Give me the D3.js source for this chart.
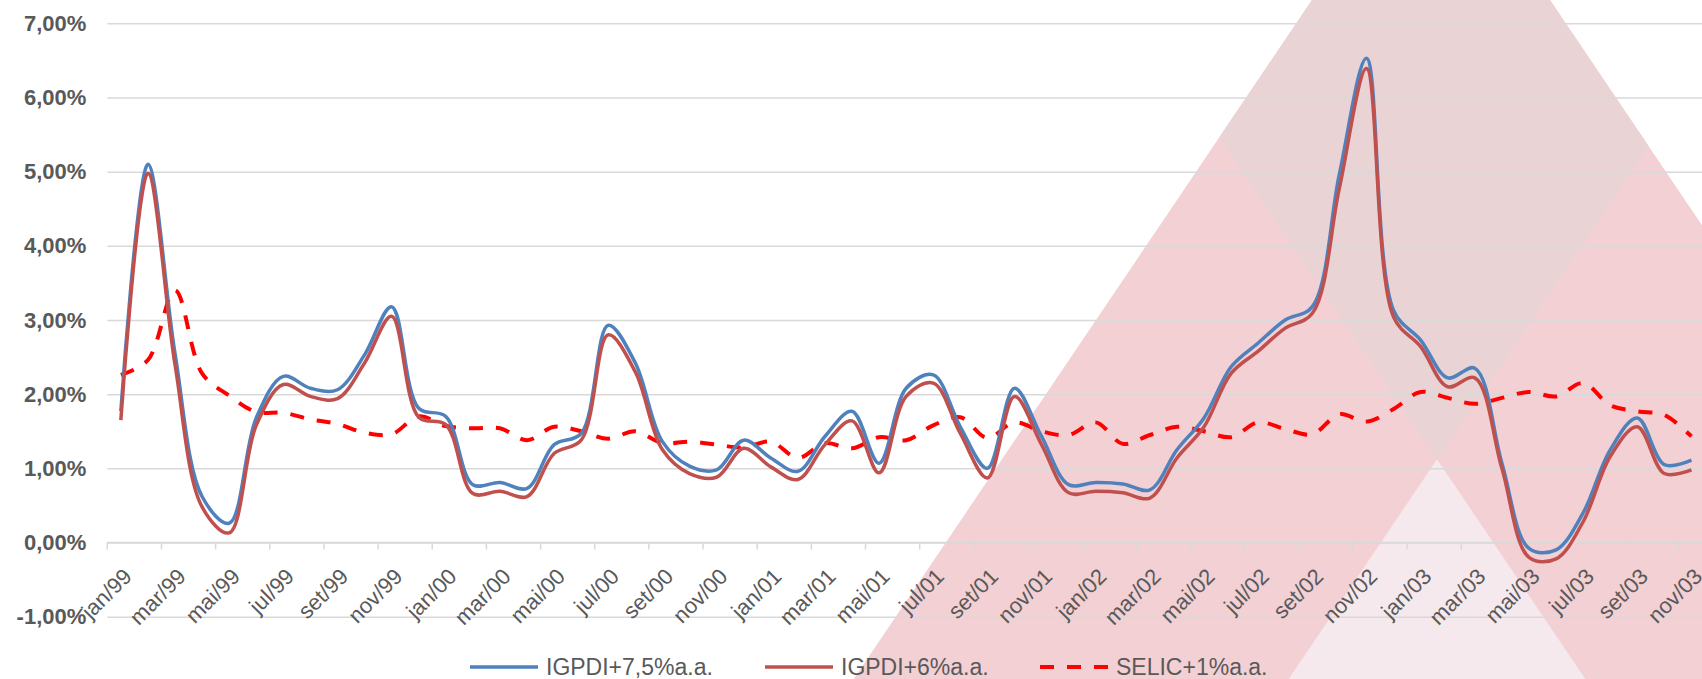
<!DOCTYPE html>
<html>
<head>
<meta charset="utf-8">
<script src="https://cdnjs.cloudflare.com/ajax/libs/d3/7.8.5/d3.min.js"></script>
<style>
    html, body { margin: 0; padding: 0; background: #fff; overflow: hidden; }
    svg { display: block; }
    .xlab { font-family: "Liberation Sans", Arial, sans-serif; font-size: 22px; fill: #595959; }
</style>
</head>
<body>
<div id="chart"></div>
<script>
var categories = [
    "jan/99", "fev/99", "mar/99", "abr/99", "mai/99", "jun/99", "jul/99", "ago/99", "set/99", "out/99", "nov/99", "dez/99",
    "jan/00", "fev/00", "mar/00", "abr/00", "mai/00", "jun/00", "jul/00", "ago/00", "set/00", "out/00", "nov/00", "dez/00",
    "jan/01", "fev/01", "mar/01", "abr/01", "mai/01", "jun/01", "jul/01", "ago/01", "set/01", "out/01", "nov/01", "dez/01",
    "jan/02", "fev/02", "mar/02", "abr/02", "mai/02", "jun/02", "jul/02", "ago/02", "set/02", "out/02", "nov/02", "dez/02",
    "jan/03", "fev/03", "mar/03", "abr/03", "mai/03", "jun/03", "jul/03", "ago/03", "set/03", "out/03", "nov/03"
];

// tick labels shown on the x axis (every other month)
var xTickLabels = [
    "jan/99", "mar/99", "mai/99", "jul/99", "set/99", "nov/99",
    "jan/00", "mar/00", "mai/00", "jul/00", "set/00", "nov/00",
    "jan/01", "mar/01", "mai/01", "jul/01", "set/01", "nov/01",
    "jan/02", "mar/02", "mai/02", "jul/02", "set/02", "nov/02",
    "jan/03", "mar/03", "mai/03", "jul/03", "set/03", "nov/03"
];

var yTicks = [-1, 0, 1, 2, 3, 4, 5, 6, 7];

var seriesNames = ["IGPDI+7,5%a.a.", "IGPDI+6%a.a.", "SELIC+1%a.a."];

// monthly values, in %
var igpdi75 = [
    1.77, 5.10, 2.55, 0.62, 0.26, 1.68, 2.24, 2.08, 2.06, 2.53, 3.18, 1.81,
    1.70, 0.78, 0.81, 0.73, 1.32, 1.47, 2.93, 2.42, 1.36, 1.03, 0.98, 1.38,
    1.14, 0.96, 1.43, 1.77, 1.07, 2.08, 2.26, 1.56, 1.00, 2.08, 1.43, 0.78,
    0.81, 0.79, 0.71, 1.25, 1.68, 2.37, 2.69, 3.00, 3.18, 4.97, 6.53, 3.13,
    2.73, 2.22, 2.35, 1.07, -0.08, -0.10, 0.40, 1.25, 1.68, 1.05, 1.11
];

var igpdi6 = [
    1.65, 4.98, 2.40, 0.48, 0.13, 1.58, 2.13, 1.97, 1.94, 2.42, 3.05, 1.69,
    1.59, 0.66, 0.69, 0.62, 1.20, 1.38, 2.80, 2.30, 1.25, 0.93, 0.88, 1.27,
    1.02, 0.85, 1.32, 1.64, 0.94, 1.97, 2.15, 1.47, 0.87, 1.97, 1.32, 0.67,
    0.69, 0.67, 0.60, 1.14, 1.56, 2.28, 2.58, 2.89, 3.09, 4.78, 6.39, 3.04,
    2.64, 2.10, 2.22, 1.00, -0.20, -0.22, 0.28, 1.16, 1.56, 0.93, 0.98
];

var selic = [
    2.26, 2.46, 3.40, 2.28, 1.98, 1.76, 1.75, 1.66, 1.60, 1.48, 1.46, 1.70,
    1.57, 1.54, 1.54, 1.38, 1.56, 1.50, 1.40, 1.50, 1.34, 1.36, 1.32, 1.28,
    1.36, 1.14, 1.34, 1.27, 1.42, 1.38, 1.58, 1.69, 1.41, 1.62, 1.50, 1.45,
    1.62, 1.33, 1.45, 1.56, 1.50, 1.42, 1.62, 1.53, 1.46, 1.73, 1.63, 1.80,
    2.03, 1.95, 1.87, 1.95, 2.03, 1.97, 2.15, 1.85, 1.77, 1.72, 1.43
];

function init() {
    var w = 1702;
    var h = 679;
    var left = 107.3, right = 1705; // plot runs slightly past the right edge
    var top = 23.3, bottom = 616.7;
    var font = "'Liberation Sans', Arial, sans-serif";
    var grey = "#595959";
    var gridColor = "#d9d9d9";

    var svg = d3.select("#chart")
        .append("svg")
        .attr("width", w)
        .attr("height", h);

    // background watermark: big triangle split by two crossing lines
    var bg = svg.append("g");
    var s = 0.675;
    var lOut = 1312, rOut = 1550;   // outer edges at y = 0
    var lIn = 1747, rIn = 1127;     // crossing lines at y = 0
    function lx(a, yy) { return a - s * yy; }
    function rx(b, yy) { return b + s * yy; }
    function meet(a, b) { return (a - b) / (2 * s); }
    function poly(pts) { return "M" + pts.map(function(p) { return p.join(","); }).join("L") + "Z"; }
    var yb = h + 10;
    var yTop = meet(lOut, rOut);
    var apex = [lx(lOut, yTop), yTop];
    var yP = meet(lIn, rIn);
    var P = [lx(lIn, yP), yP];
    var yR = meet(lIn, rOut), yL = meet(lOut, rIn);

    bg.append("path")
        .attr("d", poly([apex, [rx(rOut, yb), yb], [lx(lOut, yb), yb]]))
        .attr("fill", "#f2d0d4");
    bg.append("path")
        .attr("d", poly([apex, [rx(rOut, yR), yR], P, [lx(lOut, yL), yL]]))
        .attr("fill", "#e9d3d5");
    bg.append("path")
        .attr("d", poly([P, [rx(rIn, yb), yb], [lx(lIn, yb), yb]]))
        .attr("fill", "#f6e9ed");

    // Scales
    var x = d3.scaleBand()
        .domain(categories)
        .range([left, right]);

    var y = d3.scaleLinear()
        .domain([-1, 7])
        .range([bottom, top]);

    var ptBR = d3.formatLocale({ decimal: ",", thousands: ".", grouping: [3], currency: ["R$", ""], minus: "-" });
    var pct = ptBR.format(".2f");

    // gridlines
    var grid = svg.append("g")
        .attr("transform", "translate(" + left + ",0)")
        .call(d3.axisLeft(y).tickValues(yTicks).tickSize(-(w - left)).tickFormat(""));
    grid.select(".domain").remove();
    grid.selectAll("line").attr("stroke", gridColor).attr("stroke-width", 1.5);

    // y labels
    var yAxis = svg.append("g")
        .attr("transform", "translate(" + left + ",0)")
        .call(d3.axisLeft(y).tickValues(yTicks).tickSize(0).tickPadding(21)
            .tickFormat(function(d) { return pct(d) + "%"; }));
    yAxis.select(".domain").remove();
    yAxis.selectAll("text")
        .attr("font-family", font)
        .attr("font-weight", "bold")
        .attr("font-size", "22px")
        .attr("fill", grey);

    // category axis line with ticks between every two months
    var zeroY = y(0);
    svg.append("line")
        .attr("x1", left).attr("x2", w)
        .attr("y1", zeroY).attr("y2", zeroY)
        .attr("stroke", gridColor).attr("stroke-width", 1.5);
    svg.append("g").selectAll("line")
        .data(xTickLabels)
        .enter().append("line")
        .attr("x1", function(d) { return x(d); })
        .attr("x2", function(d) { return x(d); })
        .attr("y1", zeroY)
        .attr("y2", zeroY + 7)
        .attr("stroke", gridColor)
        .attr("stroke-width", 1.5);

    // rotated month labels, their top-right corner just under the category
    svg.append("g").selectAll("text")
        .data(xTickLabels)
        .enter().append("text")
        .attr("class", "xlab")
        .attr("text-anchor", "end")
        .attr("dy", "0.72em")
        .attr("transform", function(d) {
            var cx = x(d) + x.bandwidth() / 2;
            return "translate(" + (cx + 1) + "," + (zeroY + 24) + ") rotate(-45)";
        })
        .text(function(d) { return d; });

    // series
    var line = d3.line()
        .x(function(d, i) { return x(categories[i]) + x.bandwidth() / 2; })
        .y(function(d) { return y(d); })
        .curve(d3.curveCatmullRom);

    svg.append("path")
        .datum(selic)
        .attr("d", line)
        .attr("fill", "none")
        .attr("stroke", "#ff0000")
        .attr("stroke-width", 4)
        .attr("stroke-dasharray", "14,13");

    svg.append("path")
        .datum(igpdi75)
        .attr("d", line)
        .attr("fill", "none")
        .attr("stroke", "#4f81bd")
        .attr("stroke-width", 3.5);

    svg.append("path")
        .datum(igpdi6)
        .attr("d", line)
        .attr("fill", "none")
        .attr("stroke", "#c0504d")
        .attr("stroke-width", 3.5);

    // legend
    var legend = [
        { name: seriesNames[0], color: "#4f81bd", dash: null, x: 470 },
        { name: seriesNames[1], color: "#c0504d", dash: null, x: 765 },
        { name: seriesNames[2], color: "#ff0000", dash: "14,13", x: 1040 }
    ];
    var lg = svg.append("g").selectAll("g")
        .data(legend)
        .enter().append("g")
        .attr("transform", function(d) { return "translate(" + d.x + ",667)"; });
    lg.append("line")
        .attr("x1", 0).attr("x2", 68)
        .attr("stroke", function(d) { return d.color; })
        .attr("stroke-width", function(d) { return d.dash ? 4 : 3.5; })
        .attr("stroke-dasharray", function(d) { return d.dash; });
    lg.append("text")
        .attr("x", 76)
        .attr("y", 8)
        .attr("font-family", font)
        .attr("font-size", "23px")
        .attr("fill", grey)
        .text(function(d) { return d.name; });
}

window.onload = init;
</script>
</body>
</html>
